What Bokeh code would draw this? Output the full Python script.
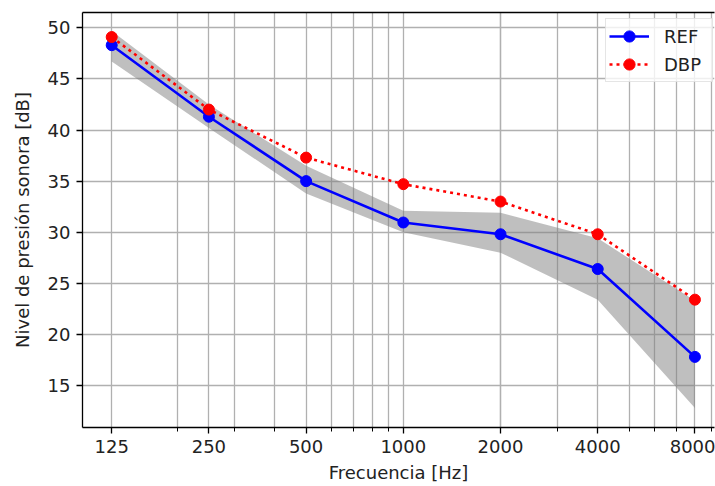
from bokeh.plotting import figure
from bokeh.models import FixedTicker, LogAxis, Legend, LegendItem, Range1d, ColumnDataSource
from bokeh.embed import file_html
from bokeh.resources import INLINE

# ---- data ----
freqs = [125, 250, 500, 1000, 2000, 4000, 8000]
tick_labels = ["125", "250", "500", "1000", "2000", "4000", "8000"]
minor_freqs = [200, 300, 400, 600, 700, 800, 900, 2000, 3000, 5000, 6000, 7000, 9000]
ref = [48.3, 41.3, 35.0, 30.95, 29.8, 26.4, 17.8]
dbp = [49.1, 42.0, 37.3, 34.7, 33.0, 29.8, 23.4]
band_upper = [49.7, 42.5, 36.5, 32.1, 31.9, 29.4, 23.3]
band_lower = [46.7, 40.2, 33.8, 30.0, 28.0, 23.4, 12.8]
y_ticks = [15, 20, 25, 30, 35, 40, 45, 50]

FONT = "DejaVu Sans"
FS = "18px"
TXT = "#222222"

src = ColumnDataSource(dict(f=freqs, ref=ref, dbp=dbp, up=band_upper, lo=band_lower))

p = figure(width=715, height=486, x_axis_type="log",
           x_range=Range1d(101.5, 9198), y_range=Range1d(10.89, 51.5),
           output_backend="svg", toolbar_location=None,
           min_border_left=82, min_border_right=1, min_border_top=12, min_border_bottom=59)
p.outline_line_color = None
p.background_fill_color = "white"
p.border_fill_color = "white"

# band
p.varea(x="f", y1="lo", y2="up", source=src, fill_color="gray", fill_alpha=0.5)

# REF
l1 = p.line(x="f", y="ref", source=src, line_color="blue", line_width=2.6)
s1 = p.scatter(x="f", y="ref", source=src, size=11, fill_color="blue", line_color="blue")
# DBP
l2 = p.line(x="f", y="dbp", source=src, line_color="red", line_width=2.6, line_dash="3 4")
s2 = p.scatter(x="f", y="dbp", source=src, size=11, fill_color="red", line_color="red")

# axes
xa = p.xaxis[0]
xa.ticker = FixedTicker(ticks=freqs, minor_ticks=minor_freqs)
xa.major_label_overrides = {f: lab for f, lab in zip(freqs, tick_labels)}
ya = p.yaxis[0]
ya.ticker = FixedTicker(ticks=y_ticks)
for ax in (xa, ya):
    ax.axis_line_color = "black"
    ax.axis_line_width = 1.3
    ax.major_tick_line_color = "black"
    ax.major_tick_line_width = 1.3
    ax.major_tick_out = 6
    ax.major_tick_in = 0
    ax.major_label_text_font = FONT
    ax.major_label_text_font_size = FS
    ax.major_label_text_color = TXT
    ax.major_label_standoff = 6
    ax.axis_label_text_font = FONT
    ax.axis_label_text_font_size = FS
    ax.axis_label_text_font_style = "normal"
    ax.axis_label_text_color = TXT
xa.minor_tick_line_color = "black"
xa.minor_tick_line_width = 1.0
xa.minor_tick_out = 4
xa.minor_tick_in = 0
ya.minor_tick_line_color = None
xa.axis_label = "Frecuencia [Hz]"
ya.axis_label = "Nivel de presión sonora [dB]"
xa.axis_label_standoff = 6
ya.axis_label_standoff = 12

# top spine
top = LogAxis(ticker=FixedTicker(ticks=[]), major_label_text_font_size="0px",
              major_tick_line_color=None, minor_tick_line_color=None,
              axis_line_color="black", axis_line_width=1.3)
p.add_layout(top, "above")

# grid
p.xgrid.grid_line_color = "#b0b0b0"
p.xgrid.grid_line_width = 1.3
p.xgrid.minor_grid_line_color = "#b0b0b0"
p.xgrid.minor_grid_line_width = 1.3
p.ygrid.grid_line_color = "#b0b0b0"
p.ygrid.grid_line_width = 1.3

legend = Legend(items=[LegendItem(label="REF", renderers=[l1, s1]),
                       LegendItem(label="DBP", renderers=[l2, s2])],
                location=(523, 345), orientation="vertical",
                label_text_font=FONT, label_text_font_size=FS, label_text_color=TXT,
                glyph_width=40, glyph_height=28, label_height=28, label_width=45,
                label_standoff=15, spacing=0, padding=3, margin=0,
                border_line_color="#cccccc", border_line_width=1.3,
                background_fill_color="white", background_fill_alpha=0.8)
p.add_layout(legend)

open("out.html", "w").write(file_html(p, INLINE))
